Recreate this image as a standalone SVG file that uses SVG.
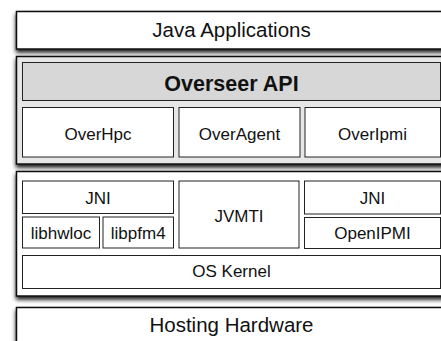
<svg xmlns="http://www.w3.org/2000/svg" width="441" height="341" viewBox="0 0 441 341">
<defs>
<filter id="sh" x="-10%" y="-30%" width="120%" height="170%">
<feGaussianBlur in="SourceAlpha" stdDeviation="2.2"/>
<feOffset dx="0" dy="3" result="b"/>
<feComponentTransfer><feFuncA type="linear" slope="0.9"/></feComponentTransfer>
<feMerge><feMergeNode/><feMergeNode in="SourceGraphic"/></feMerge>
</filter>
<style>
.outer{fill:#fff;stroke:#111;stroke-width:1.5}
.gray{fill:#e6e6e6;stroke:#111;stroke-width:1.5}
.head{fill:#d7d7d7;stroke:#222;stroke-width:1}
.box{fill:#fff;stroke:#222;stroke-width:1}
text{font-family:"Liberation Sans",Arial,Helvetica,sans-serif;fill:#111;text-anchor:middle}
.big{font-size:20.5px}
.bold{font-size:21.5px;font-weight:bold}
.t{font-size:17px}
</style>
</defs>
<rect width="441" height="341" fill="#fff"/>
<g id="java-applications">
<rect class="outer" x="16.5" y="11.5" width="430" height="37.5" filter="url(#sh)"/>
<text class="big" x="231.5" y="37.3">Java Applications</text>
</g>
<g id="overseer">
<rect class="gray" x="16.5" y="56.5" width="430" height="107.5" filter="url(#sh)"/>
<g id="overseer-api">
<rect class="head" x="22.5" y="62.5" width="418" height="38"/>
<text class="bold" x="231.5" y="90.7">Overseer API</text>
</g>
<g id="overhpc">
<rect class="box" x="22.5" y="107.5" width="151" height="49.5"/>
<text class="t" x="98" y="140">OverHpc</text>
</g>
<g id="overagent">
<rect class="box" x="179" y="107.5" width="121" height="49.5"/>
<text class="t" x="239.5" y="140">OverAgent</text>
</g>
<g id="overipmi">
<rect class="box" x="305" y="107.5" width="135.5" height="49.5"/>
<text class="t" x="372.5" y="140">OverIpmi</text>
</g>
</g>
<g id="native">
<rect class="outer" x="16.5" y="171.5" width="430" height="124.5" filter="url(#sh)"/>
<g id="jni-left">
<rect class="box" x="22.5" y="181" width="151" height="32.5"/>
<text class="t" x="98" y="204">JNI</text>
</g>
<g id="jvmti">
<rect class="box" x="179" y="181" width="120" height="67"/>
<text class="t" x="239" y="222.3">JVMTI</text>
</g>
<g id="jni-right">
<rect class="box" x="304.5" y="181" width="136" height="33"/>
<text class="t" x="372.5" y="204">JNI</text>
</g>
<g id="libhwloc">
<rect class="box" x="22.5" y="217" width="77" height="31"/>
<text class="t" x="61" y="239">libhwloc</text>
</g>
<g id="libpfm4">
<rect class="box" x="103" y="217" width="70.5" height="31"/>
<text class="t" x="138.2" y="239">libpfm4</text>
</g>
<g id="openipmi">
<rect class="box" x="304.5" y="217.5" width="136" height="31"/>
<text class="t" x="372.5" y="239">OpenIPMI</text>
</g>
<g id="os-kernel">
<rect class="box" x="22.5" y="255.5" width="418" height="33"/>
<text class="t" x="231.5" y="277.3">OS Kernel</text>
</g>
</g>
<g id="hosting-hardware">
<rect class="outer" x="16.5" y="307.5" width="430" height="40" filter="url(#sh)"/>
<text class="big" x="231.5" y="331.7">Hosting Hardware</text>
</g>
<g id="connectors"/>
</svg>
